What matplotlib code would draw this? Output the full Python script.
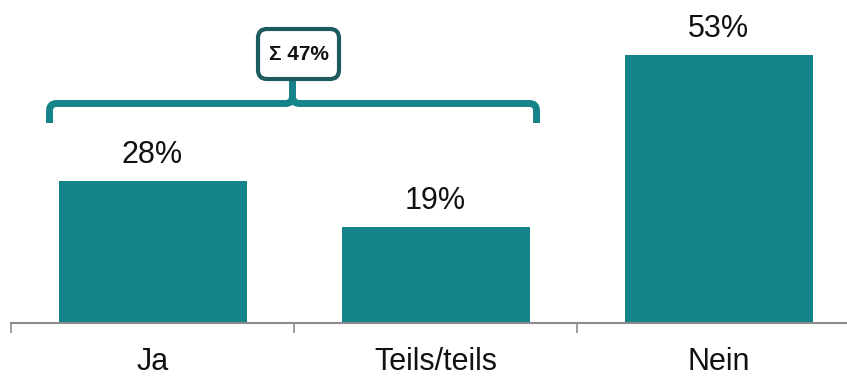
import matplotlib
matplotlib.use("Agg")
import matplotlib.pyplot as plt
from matplotlib.path import Path
from matplotlib.patches import PathPatch, FancyBboxPatch

categories = ["Ja", "Teils/teils", "Nein"]
values = [28, 19, 53]
value_labels = ["28%", "19%", "53%"]
sum_label = "\u03A3 47%"

BAR = "#15838A"
BOX_EDGE = "#1D5B5F"
GRAY = "#8C8C8C"

plt.rcParams['font.family'] = ['Liberation Sans', 'DejaVu Sans']

fig = plt.figure(figsize=(8.47, 3.76), dpi=100)
ax = fig.add_axes([11/847, 53/376, 836/847, 323/376])

px_x = 283.0          # pixels per category unit
px_y = 268.0 / 53.0   # pixels per percent

x = list(range(len(categories)))
ax.bar(x, values, width=188/px_x, color=BAR, zorder=2)
ax.set_xlim(-0.5, -0.5 + 836/px_x)
ax.set_ylim(0, 323/px_y)

for xi, v, lab in zip(x, values, value_labels):
    ax.text(xi, v + 18/px_y, lab, ha='center', va='baseline', fontsize=22, color='#111111')

for s in ['top', 'right', 'left']:
    ax.spines[s].set_visible(False)
ax.spines['bottom'].set_color(GRAY)
ax.spines['bottom'].set_linewidth(1.5)
ax.set_yticks([])
ax.set_xticks(x)
ax.set_xticklabels(categories, fontsize=22, color='#111111')
ax.tick_params(axis='x', which='major', length=0, pad=17)
ax.set_xticks([-0.5, 0.5, 1.5], minor=True)
ax.tick_params(axis='x', which='minor', length=7.5, width=1.2, color=GRAY)

# brace
xl = (49.5 - 11)/px_x - 0.5
xr = (536.5 - 11)/px_x - 0.5
xc = (292.5 - 11)/px_x - 0.5
yh = (323 - 103.5)/px_y
yb = (323 - 123)/px_y
yt = (323 - 80)/px_y
rx = 7/px_x
ry = 7/px_y
verts = [(xl, yb), (xl, yh - ry), (xl, yh), (xl + rx, yh), (xc - rx, yh), (xc, yh), (xc, yh + ry), (xc, yt),
         (xc, yh + ry), (xc, yh), (xc + rx, yh), (xr - rx, yh), (xr, yh), (xr, yh - ry), (xr, yb)]
codes = [Path.MOVETO, Path.LINETO, Path.CURVE3, Path.CURVE3, Path.LINETO, Path.CURVE3, Path.CURVE3, Path.LINETO,
         Path.MOVETO, Path.CURVE3, Path.CURVE3, Path.LINETO, Path.CURVE3, Path.CURVE3, Path.LINETO]
ax.add_patch(PathPatch(Path(verts, codes), facecolor='none', edgecolor=BAR, lw=5, capstyle='butt',
                       joinstyle='round', clip_on=False, zorder=3))

# sum box
bx0 = (258 - 11)/px_x - 0.5
bx1 = (339 - 11)/px_x - 0.5
by0 = (323 - 79)/px_y
by1 = (323 - 29)/px_y
box = FancyBboxPatch((bx0, by0), bx1 - bx0, by1 - by0,
                     boxstyle="round,pad=0,rounding_size=%f" % (9/px_x),
                     mutation_aspect=px_x/px_y,
                     facecolor='white', edgecolor=BOX_EDGE, lw=3, clip_on=False, zorder=4)
ax.add_patch(box)
ax.text((bx0 + bx1)/2, (by0 + by1)/2, sum_label, ha='center', va='center', fontsize=15,
        fontweight='bold', color='#111111', zorder=5)

fig.savefig("out.png", dpi=100)
